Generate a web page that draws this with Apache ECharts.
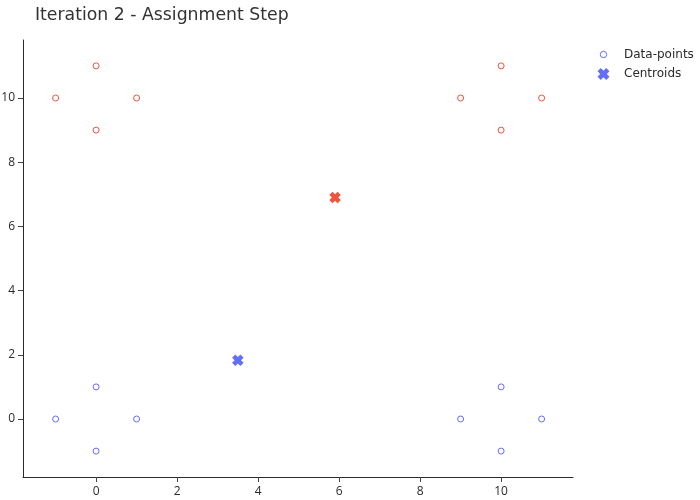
<!DOCTYPE html>
<html><head><meta charset="utf-8">
<script src="https://cdn.jsdelivr.net/npm/echarts@6/dist/echarts.min.js"></script>
<style>html,body{margin:0;padding:0;background:#fff}#c{width:700px;height:500px}</style>
</head><body><div id="c"></div>
<script>
const titleText = 'Iteration 2 - Assignment Step';
const legendNames = ['Data-points', 'Centroids'];
const xTicks = [0, 2, 4, 6, 8, 10];
const yTicks = [0, 2, 4, 6, 8, 10];
const bluePoints = [[-1,0],[0,1],[0,-1],[1,0],[9,0],[10,1],[10,-1],[11,0]];
const redPoints = [[-1,10],[0,11],[0,9],[1,10],[9,10],[10,11],[10,9],[11,10]];
const blueCentroid = [3.5, 1.83];
const redCentroid = [5.9, 6.9];
const BLUE = '#636efa', RED = '#ef553b', INK = '#2a2a2a';
const xPath = 'path://M-1.8,-4 L0,-2.2 L1.8,-4 L4,-1.8 L2.2,0 L4,1.8 L1.8,4 L0,2.2 L-1.8,4 L-4,1.8 L-2.2,0 L-4,-1.8 Z';
const smallCircle = 'path://M-6,-6 M6,6 M-3.2,0 A3.2,3.2 0 1 1 3.2,0 A3.2,3.2 0 1 1 -3.2,0 Z';
const FONT = 'DejaVu Sans', TICKFONT = 'Open Sans';

const chart = echarts.init(document.getElementById('c'), null, {renderer:'canvas'});
const axisCommon = {
  type:'value', splitLine:{show:false},
  axisLine:{show:true, onZero:false, lineStyle:{color:INK, width:1}},
  axisLabel:{color:INK, fontFamily:TICKFONT, fontSize:12, margin:9},
  axisTick:{show:true, length:5, lineStyle:{color:'#444', width:1}}
};
chart.setOption({
  animation:false,
  backgroundColor:'#fff',
  title:{text:titleText, left:30, top:2, textStyle:{fontFamily:FONT, fontSize:17.3, fontWeight:'normal', color:'#333'}},
  legend:{
    orient:'vertical', left:592, top:43, itemWidth:26, itemHeight:12, itemGap:7,
    textStyle:{fontFamily:FONT, fontSize:12, color:INK, padding:[0,0,0,2.5]},
    data:[
      {name:legendNames[0], icon:smallCircle, itemStyle:{color:'#fff', borderColor:BLUE, borderWidth:1, opacity:1}},
      {name:legendNames[1], icon:xPath, itemStyle:{color:BLUE, opacity:1}}
    ]
  },
  grid:{left:23, right:127, top:40, bottom:23, containLabel:false, outerBoundsMode:'none'},
  xAxis:Object.assign({}, axisCommon, {min:-1.805, max:11.775,
    axisTick:Object.assign({}, axisCommon.axisTick, {customValues:xTicks}),
    axisLabel:Object.assign({}, axisCommon.axisLabel, {customValues:xTicks})}),
  yAxis:Object.assign({}, axisCommon, {min:-1.807, max:11.807,
    axisTick:Object.assign({}, axisCommon.axisTick, {customValues:yTicks}),
    axisLabel:Object.assign({}, axisCommon.axisLabel, {customValues:yTicks, margin:8})}),
  series:[
    {name:legendNames[0], type:'scatter', symbol:'circle', symbolSize:6,
     itemStyle:{color:'#fff', borderColor:BLUE, borderWidth:1, opacity:1},
     data:bluePoints.map(p=>({value:p}))
       .concat(redPoints.map(p=>({value:p, itemStyle:{color:'#fff', borderColor:RED, borderWidth:1, opacity:1}})))},
    {name:legendNames[1], type:'scatter', symbol:xPath, symbolSize:11.5,
     itemStyle:{color:BLUE, opacity:1},
     data:[{value:blueCentroid},{value:redCentroid, itemStyle:{color:RED, opacity:1}}]}
  ]
});
</script></body></html>
